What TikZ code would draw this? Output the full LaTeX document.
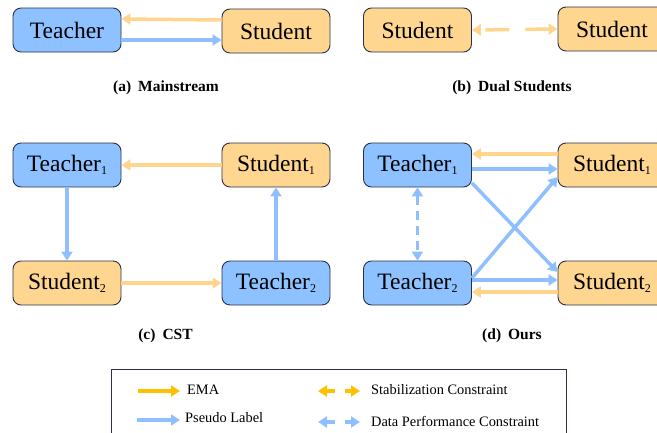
\documentclass[tikz,border=0pt]{standalone}
\usepackage{fontspec}
\setmainfont{Liberation Serif}
\usepackage{tikz}
\usetikzlibrary{arrows.meta}
\usetikzlibrary{calc}
\usepackage{xcolor}
\definecolor{myBlue}{HTML}{8EC1FF}
\definecolor{myOrange}{HTML}{FFD68F}
\definecolor{myBlueArrow}{HTML}{8FBFFF}
\definecolor{myOrangeArrow}{HTML}{FFD48C}
\definecolor{myGold}{HTML}{FFC000}
\definecolor{myNavy}{HTML}{2B3148}
\newcommand{\idx}[1]{\raisebox{-3.5pt}{\fontsize{12}{12}\selectfont #1}}
\tikzset{
  box/.style={draw=myNavy, line width=0.9pt, rounded corners=8pt,
    minimum width=108pt, minimum height=44pt, inner sep=0pt,
    font=\fontsize{23.5}{26}\selectfont},
  teacher/.style={box, fill=myBlue},
  student/.style={box, fill=myOrange},
  ema/.style={draw=myOrangeArrow, line width=3.5pt, -{Triangle[length=9pt,width=11pt]}},
  pseudo/.style={draw=myBlueArrow, line width=3.5pt, -{Triangle[length=9pt,width=11pt]}},
  stab/.style={draw=myOrangeArrow, line width=3.5pt,
    {Triangle[length=9pt,width=11pt]}-{Triangle[length=9pt,width=11pt]}},
  perf/.style={draw=myBlueArrow, line width=3.5pt,
    {Triangle[length=9pt,width=11pt]}-{Triangle[length=9pt,width=11pt]}},
  caption/.style={font=\fontsize{15.5}{18}\selectfont\bfseries},
  legtext/.style={font=\fontsize{14.4}{16}\selectfont, anchor=west, inner sep=0pt},
}

\begin{document}
\begin{tikzpicture}[x=1pt, y=-1pt]
\useasboundingbox (0,0) rectangle (657,432);
\clip (0,0) rectangle (657,432);

%%%%%%%%%%%%%%%%%%%%%%%%%%%%%%%%%%%%%%%%%%%%%%%%%%%%%%%%%%%%%% (a) Mainstream
\node[teacher] (Ta) at (67,30) {Teacher};
\node[student] (Sa) at (276,31) {Student};
\draw[ema] ([yshift=11pt]Sa.west) -- ([yshift=11pt]Ta.east);
\draw[pseudo] ([yshift=-10pt]Ta.east) -- ([yshift=-9pt]Sa.west);
\node[caption] (capA) at (166,88) {(a)\hspace{7pt}Mainstream};

%%%%%%%%%%%%%%%%%%%%%%%%%%%%%%%%%%%%%%%%%%%%%%%%%%%%%%%%%%%%%% (b) Dual Students
\node[student] (Sb1) at (417.5,30) {Student};
\node[student] (Sb2) at (612,29) {Student};
% dashed, both ways
\draw[stab, dash pattern=on 0pt off 5pt on 24pt off 16pt on 40pt] (Sb1.east) -- (Sb2.west);
\node[caption] (capB) at (512,88) {(b)\hspace{7pt}Dual Students};

%%%%%%%%%%%%%%%%%%%%%%%%%%%%%%%%%%%%%%%%%%%%%%%%%%%%%%%%%%%%%% (c) CST
\node[teacher] (T1c) at (67,165) {Teacher\idx{1}};
\node[student] (S1c) at (276,165) {Student\idx{1}};
\node[student] (S2c) at (67,283) {Student\idx{2}};
\node[teacher] (T2c) at (276,283) {Teacher\idx{2}};
\draw[ema] (S1c.west) -- (T1c.east);
\draw[pseudo] (T1c.south) -- (S2c.north);
\draw[ema] (S2c.east) -- (T2c.west);
\draw[pseudo] (T2c.north) -- (S1c.south);
\node[caption] (capC) at (165.5,336) {(c)\hspace{7pt}CST};

%%%%%%%%%%%%%%%%%%%%%%%%%%%%%%%%%%%%%%%%%%%%%%%%%%%%%%%%%%%%%% (d) Ours
\node[teacher] (T1d) at (417.5,165) {Teacher\idx{1}};
\node[student] (S1d) at (612,165) {Student\idx{1}};
\node[teacher] (T2d) at (417.5,283) {Teacher\idx{2}};
\node[student] (S2d) at (612,283) {Student\idx{2}};
\draw[ema] ([yshift=11pt]S1d.west) -- ([yshift=11pt]T1d.east);
\draw[pseudo] ([yshift=-4pt]T1d.east) -- ([yshift=-4pt]S1d.west);
% crossing
\draw[pseudo] ([yshift=-18pt]T1d.east) -- ([yshift=11pt]S2d.west);
\draw[pseudo] ([yshift=5pt]T2d.east) -- ([yshift=-12pt]S1d.west);
\draw[pseudo] ([yshift=3pt]T2d.east) -- ([yshift=3pt]S2d.west);
\draw[ema] ([yshift=-9pt]S2d.west) -- ([yshift=-9pt]T2d.east);
\draw[perf, dash pattern=on 9pt off 6pt] (T1d.south) -- (T2d.north);
\node[caption] (capD) at (512,336) {(d)\hspace{7pt}Ours};

%%%%%%%%%%%%%%%%%%%%%%%%%%%%%%%%%%%%%%%%%%%%%%%%%%%%%%%%%%%%%% Legend
\draw[myNavy, line width=0.9pt] (111,369) rectangle (566,445);

\coordinate (e1) at (138,391);
\coordinate (e2) at (180,391);
\draw[ema, draw=myGold] (e1) -- (e2);
\node[legtext] (lEMA) at (187,390) {EMA};

\coordinate (p1) at (137,420);
\coordinate (p2) at (180,420);
\draw[pseudo] (p1) -- (p2);
\node[legtext] (lPseudo) at (185,418) {Pseudo Label};

\coordinate (s1) at (335,391);
\coordinate (s2) at (318,391);
\coordinate (s3) at (345,391);
\coordinate (s4) at (360,391);
\draw[ema, draw=myGold] (s1) -- (s2);
\draw[ema, draw=myGold] (s3) -- (s4);
\node[legtext] (lStab) at (371,390) {Stabilization Constraint};

\coordinate (d1) at (335,422);
\coordinate (d2) at (318,422);
\coordinate (d3) at (345,422);
\coordinate (d4) at (360,422);
\draw[pseudo] (d1) -- (d2);
\draw[pseudo] (d3) -- (d4);
\node[legtext] (lPerf) at (371,421) {Data Performance Constraint};

\end{tikzpicture}
\end{document}
